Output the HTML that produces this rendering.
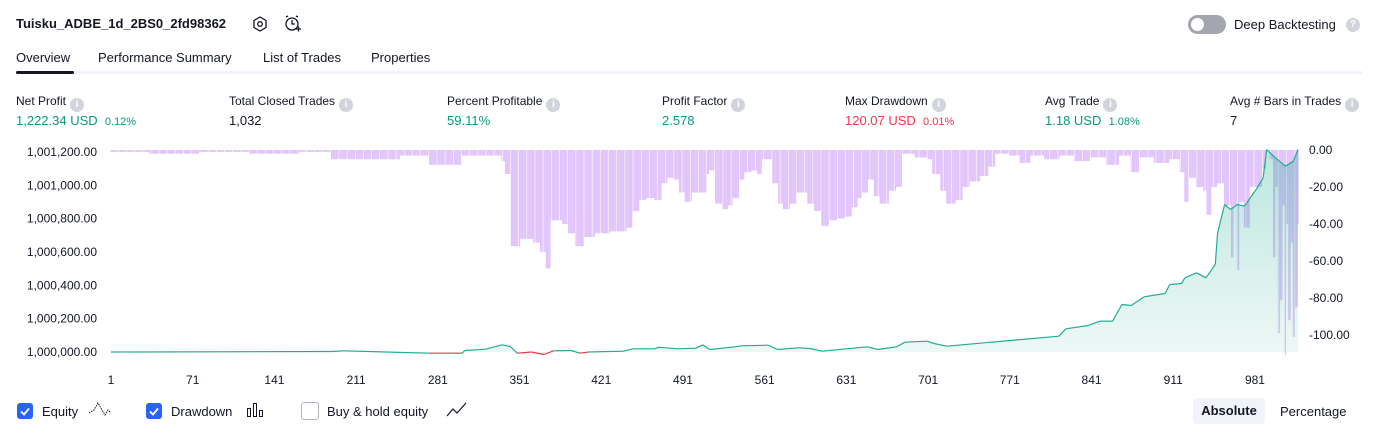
<!DOCTYPE html>
<html><head><meta charset="utf-8"><style>
body{margin:0;width:1379px;height:435px;background:#fff;font-family:"Liberation Sans",sans-serif;color:#131722;position:relative;overflow:hidden}
.a{position:absolute;white-space:nowrap}
.t{font-size:13px}
.lbl{font-size:12px;color:#131722}
.val{font-size:13px}
.g{color:#089981}.r{color:#f23645}
.sm{font-size:11px}
.info{display:inline-block;width:14px;height:14px;border-radius:50%;background:#d1d4dc;color:#fff;font-size:10px;text-align:center;line-height:14px;font-weight:bold;vertical-align:-2px;margin-left:4px}
.cb{position:absolute;width:16px;height:16px;border-radius:3px}
</style></head><body>
<div class="a" style="left:16px;top:16px;font-size:13px;font-weight:bold">Tuisku_ADBE_1d_2BS0_2fd98362</div>
<svg class="a" style="left:251px;top:15px" width="18" height="18" viewBox="0 0 18 18"><polygon points="9,2 15,5.5 15,12.5 9,16 3,12.5 3,5.5" fill="none" stroke="#131722" stroke-width="1.3"/><circle cx="9" cy="9" r="2.3" fill="none" stroke="#131722" stroke-width="1.3"/></svg>
<svg class="a" style="left:284px;top:14px" width="18" height="20" viewBox="0 0 18 20"><circle cx="8" cy="10" r="6" fill="none" stroke="#131722" stroke-width="1.3"/><path d="M8 6v4h3M2 3l2-1M14 3l-2-1M12 15h5M14.5 12.5v5" fill="none" stroke="#131722" stroke-width="1.3"/></svg>
<div class="a" style="left:1188px;top:15px;width:38px;height:19px;border-radius:10px;background:#a3a6af"><div style="position:absolute;left:3px;top:3px;width:13px;height:13px;border-radius:50%;background:#fff"></div></div>
<div class="a t" style="left:1234px;top:17px">Deep Backtesting</div>
<div class="a" style="left:1346px;top:18px;width:14px;height:14px;border-radius:50%;background:#d1d4dc;color:#fff;font-size:10px;text-align:center;line-height:14px;font-weight:bold">?</div>

<div class="a t" style="left:16px;top:50px">Overview</div>
<div class="a t" style="left:98px;top:50px">Performance Summary</div>
<div class="a t" style="left:263px;top:50px">List of Trades</div>
<div class="a t" style="left:371px;top:50px">Properties</div>
<div class="a" style="left:16px;top:71px;width:1346px;height:3px;background:#f0f3fa"></div>
<div class="a" style="left:16px;top:71px;width:58px;height:3px;border-radius:2px;background:#131722"></div>

<div class="a lbl" style="left:16px;top:94px">Net Profit<span class="info">i</span></div>
<div class="a val g" style="left:16px;top:113px">1,222.34 USD&nbsp; <span class="sm">0.12%</span></div>
<div class="a lbl" style="left:229px;top:94px">Total Closed Trades<span class="info">i</span></div>
<div class="a val" style="left:229px;top:113px">1,032</div>
<div class="a lbl" style="left:447px;top:94px">Percent Profitable<span class="info">i</span></div>
<div class="a val g" style="left:447px;top:113px">59.11%</div>
<div class="a lbl" style="left:662px;top:94px">Profit Factor<span class="info">i</span></div>
<div class="a val g" style="left:662px;top:113px">2.578</div>
<div class="a lbl" style="left:845px;top:94px">Max Drawdown<span class="info">i</span></div>
<div class="a val r" style="left:845px;top:113px">120.07 USD&nbsp; <span class="sm">0.01%</span></div>
<div class="a lbl" style="left:1045px;top:94px">Avg Trade<span class="info">i</span></div>
<div class="a val g" style="left:1045px;top:113px">1.18 USD&nbsp; <span class="sm">1.08%</span></div>
<div class="a lbl" style="left:1230px;top:94px">Avg # Bars in Trades<span class="info">i</span></div>
<div class="a val" style="left:1230px;top:113px">7</div>

<svg id="chart" class="a" style="left:0;top:0" width="1379" height="395"></svg>

<div class="cb" style="left:17px;top:403px;background:#2962ff"><svg width="16" height="16"><path d="M4 8.5l3 3 5-6" fill="none" stroke="#fff" stroke-width="1.8"/></svg></div>
<div class="a t" style="left:42px;top:404px">Equity</div>
<svg class="a" style="left:88px;top:401px" width="24" height="18"><path d="M1 12l5-3 4-7 4 7 3 5 3-5 3 3" fill="none" stroke="#131722" stroke-width="1" stroke-dasharray="1.5 1"/></svg>
<div class="cb" style="left:146px;top:403px;background:#2962ff"><svg width="16" height="16"><path d="M4 8.5l3 3 5-6" fill="none" stroke="#fff" stroke-width="1.8"/></svg></div>
<div class="a t" style="left:171px;top:404px">Drawdown</div>
<svg class="a" style="left:246px;top:402px" width="22" height="16"><path d="M1.5 6.5h3v8h-3zM7.5 1.5h3v13h-3zM13.5 8.5h3v6h-3z" fill="none" stroke="#131722"/></svg>
<div class="cb" style="left:301px;top:402px;border:1px solid #b2b5be;background:#fff"></div>
<div class="a t" style="left:327px;top:404px">Buy &amp; hold equity</div>
<svg class="a" style="left:445px;top:401px" width="24" height="18"><path d="M2 15l6-7 4 4 9-10" fill="none" stroke="#131722" stroke-width="1.2"/></svg>
<div class="a t" style="left:1193px;top:398px;width:72px;height:26px;line-height:26px;text-align:center;background:#f0f3fa;border-radius:4px;font-weight:bold">Absolute</div>
<div class="a t" style="left:1280px;top:404px">Percentage</div>

<script>
const ddTrades=[1,34,77,120,163,190,223,249,274,302,336,339,344,352,363,369,374,378,388,393,399,407,416,429,437,443,448,454,460,467,473,478,484,488,493,499,506,512,514,519,525,530,534,540,544,550,555,559,564,568,573,577,583,589,593,598,604,610,617,624,630,636,641,645,650,655,660,668,674,679,690,701,705,712,717,725,731,737,746,753,759,771,780,789,801,814,827,840,854,865,875,882,895,908,917,921,925,931,937,940,944,949,955,961,963,966,968,972,977,984,988,991,994,997,999,1001,1003,1005,1007,1008,1010,1012,1014,1016,1018];
const ddValues=[1,2,1,2,1,5,5,3,8,3,6,13,52,48,50,55,64,38,40,45,52,47,45,44,44,42,33,27,26,27,18,15,16,23,28,23,23,13,11,29,32,30,26,16,12,11,13,5,5,18,29,32,29,23,23,29,33,41,38,37,36,31,26,23,16,25,29,22,20,2,4,5,13,22,29,27,20,17,14,9,2,3,7,3,5,3,6,4,8,3,12,4,7,5,12,28,15,20,22,35,20,18,30,58,30,65,28,42,20,20,10,0,5,58,20,99,81,30,111,40,92,50,101,85,40];
const eqTrades=[1,190,200,274,302,304,322,336,343,349,361,372,380,395,403,410,440,448,467,470,486,502,508,514,533,541,564,572,590,600,610,649,658,674,681,700,706,717,749,781,813,819,838,848,859,867,875,886,904,908,918,921,931,939,947,949,955,960,966,972,982,988,991,997,1007,1014,1018];
const eqValues=[0,3,7,-7,-7,9,17,43,33,-7,0,-15,7,9,-7,0,5,19,19,29,19,23,43,15,29,37,41,15,25,21,5,31,15,31,59,65,51,35,55,75,95,139,159,185,185,285,279,331,351,405,411,445,475,445,525,715,885,855,885,875,975,1045,1215,1175,1115,1145,1215];
const xTicks=[1,71,141,211,281,351,421,491,561,631,701,771,841,911,981];
const leftTicks=[0,200,400,600,800,1000,1200];
const rightTicks=[0,-20,-40,-60,-80,-100];

const NS='http://www.w3.org/2000/svg';
const svg=document.getElementById('chart');
const X0=108,X1=1298;
const x=n=>111+(n-1)*1.1673;
const yEq=v=>352-v*(33.33/200);
const yDd=v=>150-v*1.85;
function mk(tag,attrs,parent){const e=document.createElementNS(NS,tag);for(const k in attrs)e.setAttribute(k,attrs[k]);(parent||svg).appendChild(e);return e;}
const defs=mk('defs',{});
const lg=mk('linearGradient',{id:'eqg',x1:0,y1:0,x2:0,y2:1},defs);
mk('stop',{offset:'0','stop-color':'#22ab94','stop-opacity':'0.3'},lg);
mk('stop',{offset:'1','stop-color':'#22ab94','stop-opacity':'0.08'},lg);

// drawdown bars: one per trade, taking the most recent recorded drawdown
const gdd=mk('g',{});


let k=0;
const lastN=ddTrades[ddTrades.length-1];
for(let n=1;n<=lastN;n++){
  while(k<ddTrades.length-1&&ddTrades[k+1]<=n)k++;
  const v=ddValues[k];
  const xa=Math.max(X0,x(n)-0.6);
  const w=(n%7===0)?0.6:1.25;
  const r=mk('rect',{x:xa,y:150,width:w,height:yDd(-v)-150<0.8?0.8:(150-yDd(v)),fill:'#e1c4fb'},gdd);
  
  
}
// equity area
let d='M'+x(eqTrades[0])+' '+yEq(0);
for(let i=0;i<eqTrades.length;i++)d+=' L'+Math.min(X1,x(eqTrades[i]))+' '+yEq(eqValues[i]);
d+=' L'+Math.min(X1,x(eqTrades[eqTrades.length-1]))+' '+yEq(0)+' Z';
const area=mk('path',{d:d,fill:'url(#eqg)'});


for(let i=0;i<eqTrades.length-1;i++){
  const neg=(eqValues[i]+eqValues[i+1])/2<0;
  const s=mk('line',{x1:x(eqTrades[i]),y1:yEq(eqValues[i]),x2:Math.min(X1,x(eqTrades[i+1])),y2:yEq(eqValues[i+1]),stroke:neg?'#f23645':'#22ab94','stroke-width':1.2});
  
  
}
leftTicks.forEach(v=>{
  const t=mk('text',{x:97,y:yEq(v)+4,'text-anchor':'end','font-size':12,fill:'#131722'});
  t.textContent=(1000000+v).toLocaleString('en-US')+'.00';
  
  
});
rightTicks.forEach(v=>{
  const t=mk('text',{x:1309,y:yDd(v)+4,'font-size':12,fill:'#131722'});
  t.textContent=v.toFixed(2);
  
  
});
xTicks.forEach(v=>{
  const t=mk('text',{x:x(v),y:384,'text-anchor':'middle','font-size':12,fill:'#131722'});
  t.textContent=v;
  
  
});
</script>
</body></html>
